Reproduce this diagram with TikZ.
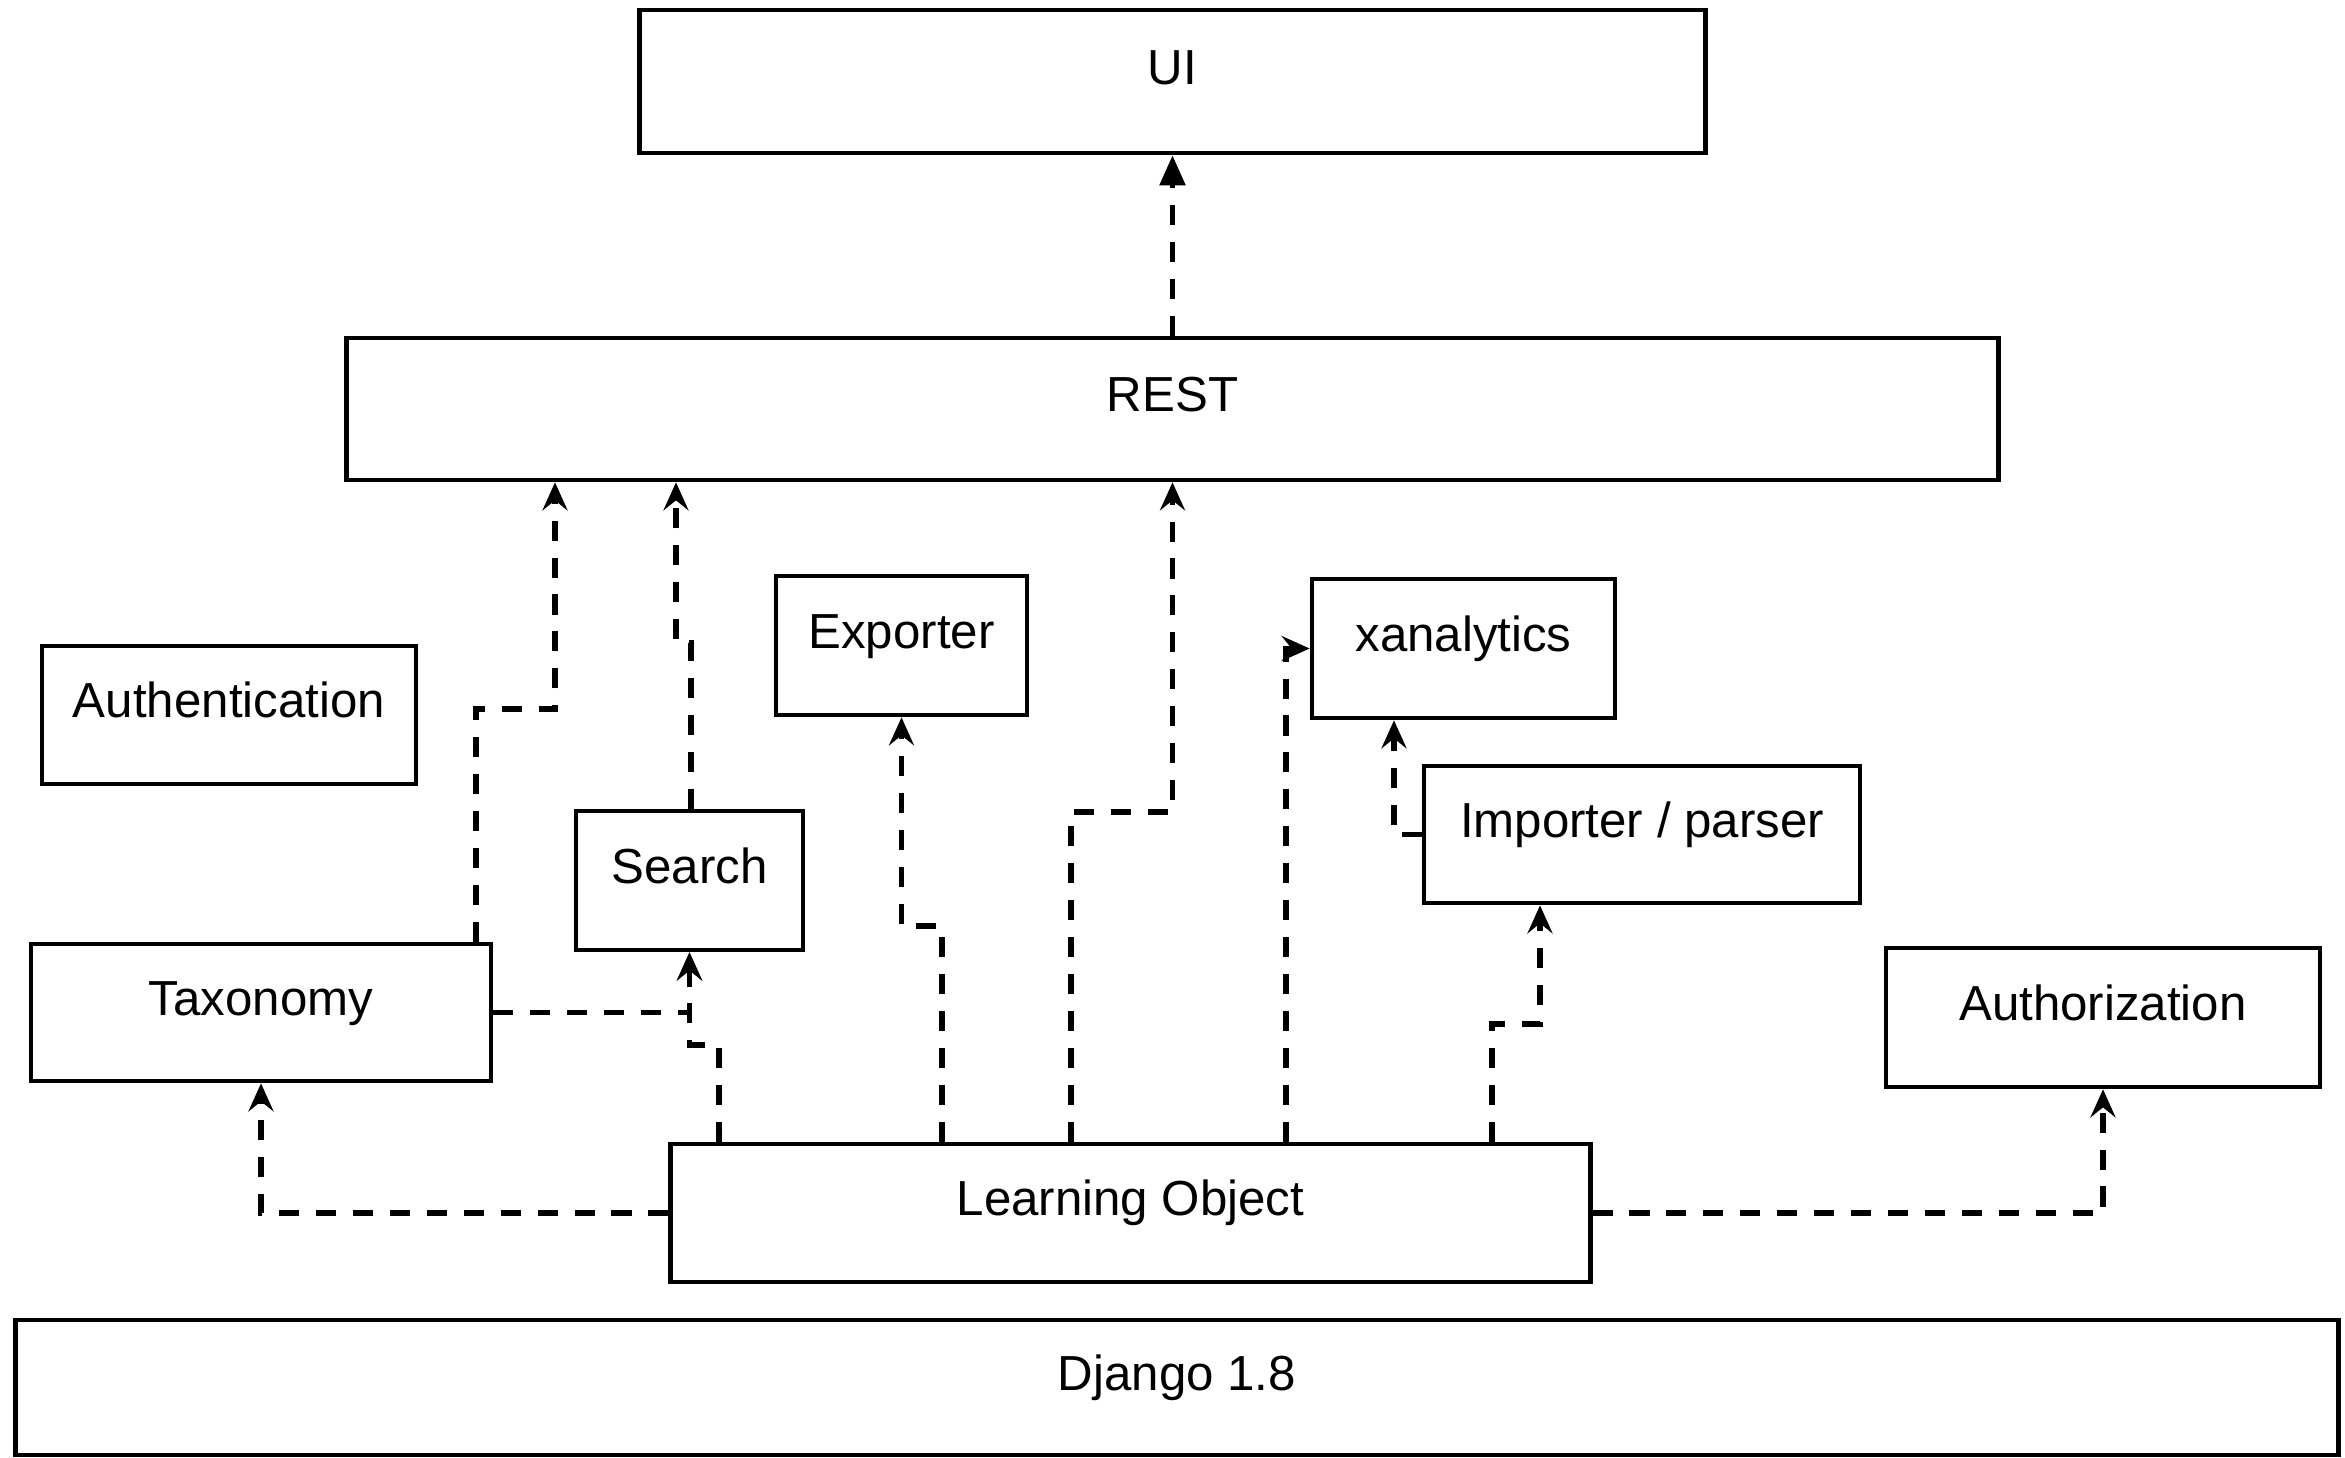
\documentclass[tikz,border=0pt]{standalone}
\usepackage{fontspec}
\setmainfont{Liberation Sans}
\usetikzlibrary{arrows.meta}
\newcommand\boxtext[1]{\raisebox{0.15cm}[10pt][0pt]{#1}}
\tikzset{
  blk/.style={draw, line width=1.3pt, rectangle, inner sep=0pt, font=\fontsize{14pt}{16pt}\selectfont},
  dep/.style={line width=1.5pt, dash pattern=on 5.7pt off 4.8pt, -{Stealth[length=0.28cm,width=0.25cm,inset=0.1cm]}},
  depfill/.style={line width=1.5pt, dash pattern=on 5.7pt off 4.8pt, -{Triangle[length=0.3cm,width=0.25cm]}},
}
\begin{document}
\begin{tikzpicture}[x=0.01cm,y=-0.01cm]
\useasboundingbox (0,0) rectangle (2345,1457);
\node[blk, minimum width=10.65cm, minimum height=1.43cm] (ui) at (1172.5,81.5) {\boxtext{UI}};
\node[blk, minimum width=16.51cm, minimum height=1.42cm] (rest) at (1172.5,409) {\boxtext{REST}};
\node[blk, minimum width=2.51cm, minimum height=1.39cm] (exp) at (901.5,645.5) {\boxtext{Exporter}};
\node[blk, minimum width=3.03cm, minimum height=1.39cm] (xan) at (1463.5,648.5) {\boxtext{xanalytics}};
\node[blk, minimum width=3.74cm, minimum height=1.38cm] (authn) at (229,715) {\boxtext{Authentication}};
\node[blk, minimum width=4.36cm, minimum height=1.37cm] (imp) at (1642,834.5) {\boxtext{Importer / parser}};
\node[blk, minimum width=2.27cm, minimum height=1.39cm] (search) at (689.5,880.5) {\boxtext{Search}};
\node[blk, minimum width=4.60cm, minimum height=1.37cm] (tax) at (261,1012.5) {\boxtext{Taxonomy}};
\node[blk, minimum width=4.34cm, minimum height=1.39cm] (authz) at (2103,1017.5) {\boxtext{Authorization}};
\node[blk, minimum width=9.19cm, minimum height=1.38cm] (lo) at (1130.5,1213) {\boxtext{Learning Object}};
\node[blk, minimum width=23.22cm, minimum height=1.35cm] (dj) at (1177,1387.5) {\boxtext{Django 1.8}};

\draw[depfill] (rest.north) -- (ui.south);
\draw[dep] (476,0 |- tax.north) -- (476,709) -| (555,0 |- rest.south);
\draw[dep] (691,0 |- search.north) -- (691,643) -| (676,0 |- rest.south);
\draw[dep] (tax.east) -| (search.south);
\draw[dep] (719,0 |- lo.north) -- (719,1045) -| (search.south);
\draw[dep] (942,0 |- lo.north) -- (942,926) -| (exp.south);
\draw[dep] (1071,0 |- lo.north) -- (1071,812) -| (rest.south);
\draw[dep] (1286,0 |- lo.north) |- (xan.west);
\draw[dep] (imp.west) -| (1394,0 |- xan.south);
\draw[dep] (1492,0 |- lo.north) -- (1492,1024) -| (1540,0 |- imp.south);
\draw[dep] (lo.west) -| (tax.south);
\draw[dep] (lo.east) -| (authz.south);
\end{tikzpicture}
\end{document}
